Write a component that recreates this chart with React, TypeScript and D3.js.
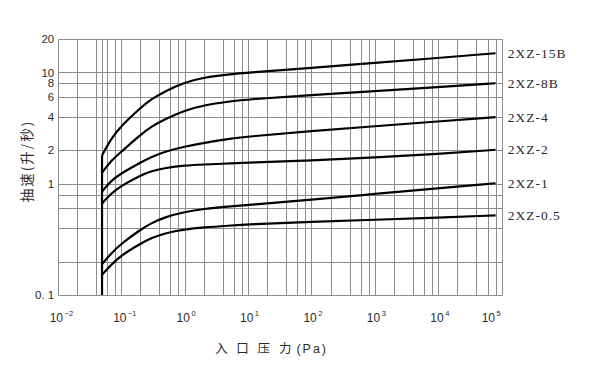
import React from "react";
import * as d3 from "d3";

// ---- data ----
const pressure = [0.05, 0.07, 0.1, 0.2, 0.3, 0.5, 1, 2, 5, 10, 100, 1000, 10000, 80000];
const seriesNames = ["2XZ-15B", "2XZ-8B", "2XZ-4", "2XZ-2", "2XZ-1", "2XZ-0.5"];
const s15B = [1.8, 2.55, 3.31, 4.8, 5.78, 6.82, 8.13, 9.02, 9.63, 9.94, 11.0, 12.2, 13.5, 14.9];
const s8B = [1.26, 1.62, 1.93, 2.74, 3.27, 3.82, 4.56, 5.07, 5.49, 5.74, 6.25, 6.82, 7.39, 8.0];
const s4 = [0.85, 1.07, 1.24, 1.55, 1.74, 1.95, 2.16, 2.33, 2.53, 2.66, 2.97, 3.29, 3.63, 3.97];
const s2 = [0.665, 0.82, 0.955, 1.19, 1.3, 1.39, 1.46, 1.49, 1.52, 1.55, 1.62, 1.72, 1.85, 2.02];
const s1 = [0.19, 0.237, 0.289, 0.385, 0.444, 0.503, 0.558, 0.594, 0.625, 0.645, 0.72, 0.81, 0.91, 1.01];
const s05 = [0.152, 0.188, 0.227, 0.288, 0.326, 0.361, 0.389, 0.405, 0.42, 0.431, 0.454, 0.475, 0.495, 0.52];
const seriesValues = [s15B, s8B, s4, s2, s1, s05];

const xTickExps = [-2, -1, 0, 1, 2, 3, 4, 5];
const xMinorMultipliers = [2, 4, 6, 8];
const xExtraGrid = [0.05];
const yTickValues = [20, 10, 8, 6, 4, 2, 1, 0.1];
const yTickLabels = ["20", "10", "8", "6", "4", "2", "1", "0. 1"];
const yGridValues = [20, 10, 8, 6, 4, 2, 1, 0.8, 0.6, 0.4, 0.2, 0.1];

const xTitle = ["入", "口", "压", "力"];
const xTitleUnit = "(Pa)";
const yTitle = "抽速(升/秒)";

export default function App() {
  const W = 600, H = 375;
  const left = 57.7, right = 501.7, top = 39, bottom = 295;
  const x = d3.scaleLog().domain([1e-2, 1e5]).range([left, right]);
  const y = d3.scaleLog().domain([0.1, 20]).range([bottom, top]);
  const px = (v: number) => Math.round(x(v)) + 0.5;
  const py = (v: number) => Math.round(y(v)) + 0.5;

  const xGrid: number[] = [];
  xTickExps.forEach((e) => {
    const base = Math.pow(10, e);
    xGrid.push(base);
    if (e < 5) xMinorMultipliers.forEach((m) => xGrid.push(m * base));
  });
  xExtraGrid.forEach((v) => xGrid.push(v));

  const line = d3
    .line<[number, number]>()
    .x((d) => x(d[0]))
    .y((d) => y(d[1]))
    .curve(d3.curveBasis);

  const grid = "#8c8c8c";
  const txt = "#2a2a2a";

  return (
    <svg
      width={W}
      height={H}
      style={{ position: "absolute", left: 0, top: 0, background: "#fff" }}
    >
      <rect x={0} y={0} width={W} height={H} fill="#fff" />
      {/* grid */}
      {xGrid.map((v, i) => (
        <line key={"xg" + i} x1={px(v)} x2={px(v)} y1={py(20)} y2={py(0.1)} stroke={grid} strokeWidth={1} />
      ))}
      {yGridValues.map((v, i) => (
        <line key={"yg" + i} x1={px(1e-2)} x2={px(1e5)} y1={py(v)} y2={py(v)} stroke={grid} strokeWidth={1} />
      ))}

      {/* vertical start line */}
      <line
        x1={x(pressure[0])}
        x2={x(pressure[0])}
        y1={y(0.1)}
        y2={y(s15B[0])}
        stroke="#000"
        strokeWidth={2.2}
      />
      {/* curves */}
      {seriesValues.map((vals, i) => (
        <path
          key={"s" + i}
          d={line(pressure.map((p, j) => [p, vals[j]] as [number, number])) || ""}
          fill="none"
          stroke="#000"
          strokeWidth={2.2}
          strokeLinejoin="round"
        />
      ))}

      {/* series labels */}
      {seriesNames.map((n, i) => (
        <text
          key={"lab" + i}
          x={x(1e5) + 6}
          y={y(seriesValues[i][seriesValues[i].length - 1])}
          dy="0.35em"
          fontFamily="'Liberation Serif', 'DejaVu Serif', serif"
          fontSize={13.5}
          letterSpacing={1}
          fill={txt}
        >
          {n}
        </text>
      ))}

      {/* y tick labels */}
      {yTickValues.map((v, i) => (
        <text
          key={"yt" + i}
          x={left - 3.5}
          y={y(v)}
          dy="0.36em"
          textAnchor="end"
          fontFamily="'Liberation Sans', Arial, sans-serif"
          fontSize={11.5}
          fill={txt}
        >
          {yTickLabels[i]}
        </text>
      ))}

      {/* x tick labels */}
      {xTickExps.map((e, i) => {
        const last = i === xTickExps.length - 1;
        return (
          <text
            key={"xt" + i}
            x={last ? x(Math.pow(10, e)) - 1 : x(Math.pow(10, e)) - 8}
            y={322}
            textAnchor={last ? "end" : "start"}
            fontFamily="'Liberation Sans', Arial, sans-serif"
            fontSize={12}
            fill={txt}
          >
            10
            <tspan fontSize={7.5} dy={-6} dx={1.5}>
              {e < 0 ? "−" + Math.abs(e) : String(e)}
            </tspan>
          </text>
        );
      })}

      {/* x title */}
      <text
        x={215}
        y={353}
        fontFamily="'Noto Sans CJK SC', sans-serif"
        fontSize={12.5}
        fill={txt}
      >
        <tspan letterSpacing={8.8}>{xTitle.slice(0, -1).join("")}</tspan>
        <tspan>{xTitle[xTitle.length - 1]}</tspan>
        <tspan dx={5} fontFamily="'Liberation Sans', Arial, sans-serif" letterSpacing={2}>
          {xTitleUnit}
        </tspan>
      </text>

      {/* y title */}
      <text
        transform={`translate(32, 161) rotate(-90)`}
        textAnchor="middle"
        fontFamily="'Noto Sans CJK SC', sans-serif"
        fontSize={13.5}
        letterSpacing={2}
        fill={txt}
      >
        {yTitle}
      </text>
    </svg>
  );
}
